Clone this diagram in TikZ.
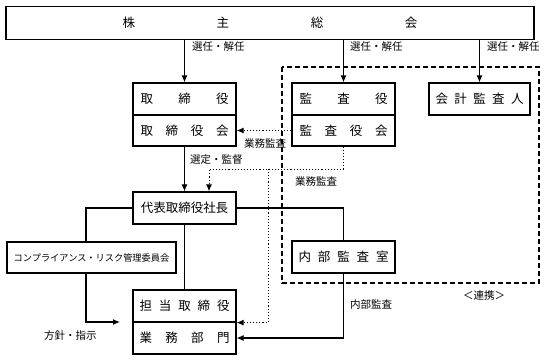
\documentclass[tikz,border=0pt]{standalone}
\usepackage{fontspec}
\usepackage{tikz}
\usetikzlibrary{arrows.meta}
\newfontfamily\jpfont{Noto Sans CJK JP}
\newcommand{\spreadtxt}[2]{\makebox[#1][s]{#2}}

\begin{document}
\begin{tikzpicture}[x=1pt, y=-1pt,
    box/.style={draw, rectangle, line width=1.2pt, inner sep=0pt, minimum height=32pt, font=\jpfont\fontsize{12.5}{14}\selectfont},
    lbl/.style={inner sep=0pt, font=\jpfont\fontsize{10.5}{12}\selectfont},
    arr/.style={-{Latex[length=7pt,width=6pt]}, line width=1.1pt},
    dot/.style={dotted, line width=1pt}]
            \useasboundingbox (0,0) rectangle (550,360);

            % top row
            \node [box, minimum width=528pt, minimum height=33pt] (gms) at (270,23) {\spreadtxt{295pt}{株\hfill{}主\hfill{}総\hfill{}会}};
            \node [box, minimum width=103pt] (dir) at (184.5,99) {\spreadtxt{88pt}{取\hfill{}締\hfill{}役}};
            \node [box, minimum width=103pt, minimum height=31pt] (board) at (184.5,130.5) {\spreadtxt{88pt}{取\hfill{}締\hfill{}役\hfill{}会}};
            \node [box, minimum width=103pt] (aud) at (343.5,99) {\spreadtxt{88pt}{監\hfill{}査\hfill{}役}};
            \node [box, minimum width=103pt, minimum height=31pt] (audb) at (343.5,130.5) {\spreadtxt{88pt}{監\hfill{}査\hfill{}役\hfill{}会}};
            \node [box, minimum width=101pt] (acct) at (479.5,99) {\spreadtxt{88pt}{会\hfill{}計\hfill{}監\hfill{}査\hfill{}人}};

            % lower part
            \node [box, minimum width=103pt] (pres) at (184.5,208) {代表取締役社長};
            \node [box, minimum width=169pt, minimum height=31pt, font=\jpfont\fontsize{9.2}{11}\selectfont] (comp) at (91.5,257.5) {コンプライアンス・リスク管理委員会};
            \node [box, minimum width=103pt] (iad) at (343.5,257) {\spreadtxt{90pt}{内\hfill{}部\hfill{}監\hfill{}査\hfill{}室}};
            \node [box, minimum width=103pt] (exec) at (184.5,306) {\spreadtxt{90pt}{担\hfill{}当\hfill{}取\hfill{}締\hfill{}役}};
            \node [box, minimum width=103pt] (dept) at (184.5,338) {\spreadtxt{90pt}{業\hfill{}務\hfill{}部\hfill{}門}};

            \draw [dashed, dash pattern=on 5pt off 3pt, line width=1.2pt] (282,67) rectangle (539,283);

            \coordinate (tap) at (268,169);
            \coordinate (compx) at (86,257.5);
            \coordinate (guide) at (120,322);

            % election
            \draw [arr] (gms.south -| dir) -- (dir);
            \draw [arr] (gms.south -| aud) -- (aud);
            \draw [arr] (gms.south -| acct) -- (acct);
            \node [lbl, anchor=west] (sel1) at (192,47) {選任・解任};
            \node [lbl, anchor=west] (sel2) at (350,47) {選任・解任};
            \node [lbl, anchor=west] (sel3) at (487,47) {選任・解任};

            % audit
            \draw [arr, dot] (audb.west) -- (board.east);
            \node [lbl] (audit1) at (265,143) {業務監査};
            \draw [arr, dot] (audb.south) |- (tap) -| (pres.north -| 209,0);
            \draw [arr, dot] (tap) |- (exec.south east);
            \node [lbl] (audit2) at (316,181) {業務監査};

            \draw [arr] (board) -- (pres);
            \node [lbl, anchor=west] (supv) at (190,160) {選定・監督};

            % president
            \draw [line width=1.1pt] (pres.west) -| (compx |- comp.north);
            \draw [arr] (compx |- comp.south) |- (guide);
            \node [lbl] (policy) at (70.5,336) {方針・指示};
            \draw [line width=1.1pt] (pres) -- (exec);
            \draw [line width=1.1pt] (pres.east) -| (iad.north);
            \draw [arr] (iad.south) |- (dept.east);
            \node [lbl, anchor=west] (intaud) at (350,305) {内部監査};
            \node [lbl] (coop) at (484,296) {＜連携＞};
\end{tikzpicture}
\end{document}
